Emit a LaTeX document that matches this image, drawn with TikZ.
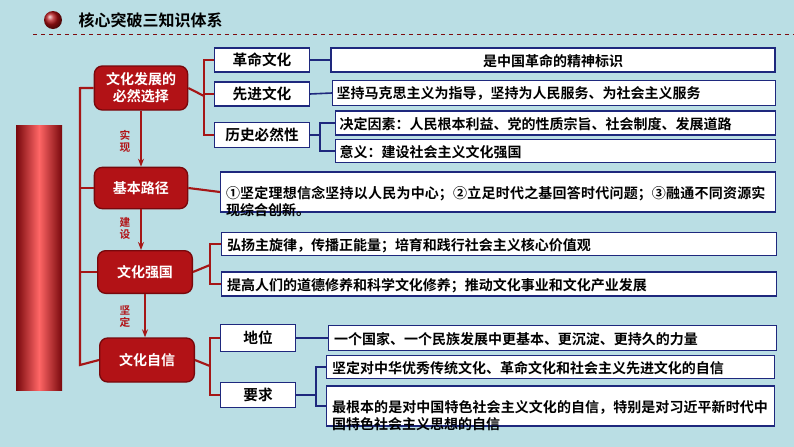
\documentclass[tikz,border=0pt]{standalone}
\usepackage{fontspec}
\setmainfont{Noto Sans CJK SC}[UprightFont=* Bold]
\XeTeXlinebreaklocale "zh"
\XeTeXlinebreakskip=0pt plus 1pt
\usetikzlibrary{arrows.meta,positioning}
\definecolor{BgClr}{RGB}{186,222,228}
\definecolor{RedClr}{RGB}{178,18,22}
\definecolor{DarkRed}{RGB}{120,8,12}
\definecolor{LineClr}{RGB}{165,22,22}
\definecolor{BoxClr}{RGB}{30,40,125}

\tikzset{
  mainbox/.style={draw=DarkRed,line width=1pt,rounded corners=6pt,fill=RedClr,
    text=white,font=\fontsize{10.5}{12.5}\selectfont,align=center,inner sep=0pt},
  subbox/.style={draw=BoxClr,line width=1pt,fill=white,font=\fontsize{11}{12}\selectfont,inner sep=0pt},
  textbox/.style={draw=BoxClr,line width=1pt,fill=white,font=\fontsize{10.5}{13}\selectfont,
    align=left,inner sep=0pt,text depth=0pt},
  redline/.style={draw=LineClr,line width=1.6pt},
  blueline/.style={draw=BoxClr,line width=1.2pt},
  steplabel/.style={text=RedClr,font=\fontsize{8}{9}\selectfont,align=center}
}

\begin{document}
\begin{tikzpicture}[x=0.75pt,y=-0.75pt]
\useasboundingbox (0,0) rectangle (794,447);
\fill[BgClr] (0,0) rectangle (794,447);

% title
\shade[ball color=RedClr] (53,20) circle (9);
\node[anchor=west,font=\fontsize{12}{14}\selectfont] (title) at (74,20) {核心突破三知识体系};
\draw[RedClr!70!black,dashed,line width=0.6pt] (33,34) -- (794,34);

% left bar
\shade[left color=DarkRed,right color=DarkRed,middle color=red!60!white] (16,125) rectangle (62,390);

% main nodes
\node[mainbox,minimum width=70pt,minimum height=33pt] (choice) at (141,88) {文化发展的\\必然选择};
\node[mainbox,minimum width=70pt,minimum height=31pt] (path) at (141,188) {基本路径};
\node[mainbox,minimum width=71pt,minimum height=32pt] (power) at (145,272) {文化强国};
\node[mainbox,minimum width=71pt,minimum height=33pt] (conf) at (147,360) {文化自信};

\coordinate (lt) at (80,87);
\coordinate (lb) at (80,365);
\draw[redline] (choice.west) -| (lt) -- (lb) -- (conf.west);
\draw[redline] (80,188) -- (path.west);
\draw[redline] (80,272) -- (power.west);

\draw[LineClr,line width=1.2pt,-{Stealth[length=6pt]}] (choice.south) -- (path.north);
\draw[LineClr,line width=1.2pt,-{Stealth[length=6pt]}] (path.south) -- (path.south |- power.north);
\draw[LineClr,line width=1.2pt,-{Stealth[length=6pt]}] (power.south) -- (power.south |- conf.north);
\node[steplabel] (l1) at (125,141) {实\\现};
\node[steplabel] (l2) at (125,228) {建\\设};
\node[steplabel] (l3) at (125,317) {坚\\定};

% group 1
\node[subbox,minimum width=71pt,minimum height=18pt] (rev) at (262,60) {革命文化};
\node[subbox,minimum width=71pt,minimum height=18pt] (adv) at (262,94) {先进文化};
\node[subbox,minimum width=71pt,minimum height=19pt] (hist) at (262,135) {历史必然性};
\draw[redline] (choice.east) -- (204,96);
\draw[redline] (rev.west) -| (204,96) |- (hist.west);
\draw[redline] (204,94) -- (adv.west);
\node[textbox,minimum width=333pt,minimum height=18pt,align=center] (revt) at (553,60) {是中国革命的精神标识};
\node[textbox,minimum width=332pt,minimum height=19pt,anchor=west,text width=326pt] (advt) at (332,93) {坚持马克思主义为指导，坚持为人民服务、为社会主义服务};
\node[textbox,minimum width=330pt,minimum height=18pt,anchor=west,text width=324pt] (fact) at (335,123) {决定因素：人民根本利益、党的性质宗旨、社会制度、发展道路};
\node[textbox,minimum width=330pt,minimum height=17pt,anchor=west,text width=324pt] (mean) at (335,151) {意义：建设社会主义文化强国};
\draw[blueline] (rev.east) -- (revt.west);
\draw[blueline] (adv.east) -- (advt.west);
\draw[blueline] (hist.east) -- (320,135);
\draw[blueline] (fact.west) -| (320,135) |- (mean.west);

% group 2
\node[textbox,minimum width=416pt,minimum height=30pt,anchor=west,text width=408pt] (patht) at (220,192) {①坚定理想信念坚持以人民为中心；②立足时代之基回答时代问题；③融通不同资源实现综合创新。};
\draw[redline] (path.east) -- (patht.west);

% group 3
\node[textbox,minimum width=416pt,minimum height=17pt,anchor=west,text width=408pt] (melody) at (221,244) {弘扬主旋律，传播正能量；培育和践行社会主义核心价值观};
\node[textbox,minimum width=416pt,minimum height=18pt,anchor=west,text width=408pt] (moral) at (221,284) {提高人们的道德修养和科学文化修养；推动文化事业和文化产业发展};
\draw[redline] (power.east) -- (210,265);
\draw[redline] (melody.west) -| (210,265) |- (moral.west);

% group 4
\node[subbox,minimum width=56pt,minimum height=20pt] (pos) at (258,338) {地位};
\node[subbox,minimum width=56pt,minimum height=19pt] (req) at (258,395) {要求};
\draw[redline] (conf.east) -- (210,366);
\draw[redline] (pos.west) -| (210,366) |- (req.west);
\node[textbox,minimum width=336pt,minimum height=19pt,anchor=west,text width=328pt] (post) at (328,338) {一个国家、一个民族发展中更基本、更沉淀、更持久的力量};
\node[textbox,minimum width=336pt,minimum height=17pt,anchor=west,text width=328pt] (reqa) at (326,367) {坚定对中华优秀传统文化、革命文化和社会主义先进文化的自信};
\node[textbox,minimum width=336pt,minimum height=30pt,anchor=west,text width=328pt] (reqb) at (326,406) {最根本的是对中国特色社会主义文化的自信，特别是对习近平新时代中国特色社会主义思想的自信};
\draw[blueline] (pos.east) -- (post.west);
\draw[blueline] (req.east) -- (316,395);
\draw[blueline] (reqa.west) -| (316,395) |- (reqb.west);
\end{tikzpicture}
\end{document}
